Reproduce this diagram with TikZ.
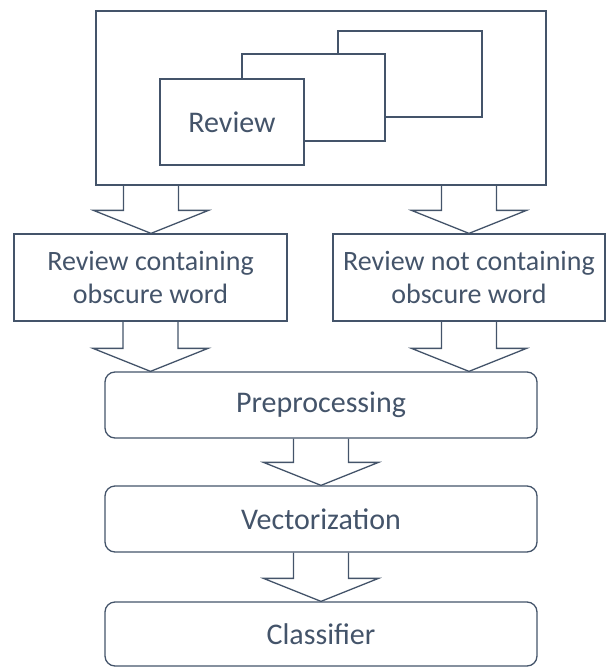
\documentclass[tikz,border=0pt]{standalone}
\usepackage{fontspec}
\setmainfont{Carlito}
\usetikzlibrary{calc}
\definecolor{ink}{HTML}{44546A}
\tikzset{
  base/.style={draw=ink, line width=1.3pt, text=ink, inner sep=0pt, align=center},
  sqbox/.style={base, rectangle},
  rbox/.style={base, rectangle, rounded corners=10pt, minimum width=432pt, minimum height=66pt, font=\fontsize{30}{36}\selectfont},
  twoline/.style={sqbox, minimum height=87pt, font=\fontsize{28}{33}\selectfont},
  blockline/.style={draw=ink, line width=1.3pt, line join=miter}
}
\newcommand\blockarrow[2]{%
  \draw[blockline] let \p1=#1, \p2=#2 in
    (\x2-27.5pt,\y1) -- (\x2-27.5pt,\y2+23pt) -- (\x2-57.5pt,\y2+23pt) -- (\x2,\y2)
    -- (\x2+57.5pt,\y2+23pt) -- (\x2+27.5pt,\y2+23pt) -- (\x2+27.5pt,\y1);}
\begin{document}
\begin{tikzpicture}[x=1pt,y=-1pt]
\useasboundingbox (0,0) rectangle (606,667);
% outer review container
\node[sqbox, minimum width=450pt, minimum height=174pt] (outer) at (321,98) {};
\node[sqbox, fill=white, minimum width=144pt, minimum height=86pt] (back) at (410,74) {};
\node[sqbox, fill=white, minimum width=143pt, minimum height=87pt] (mid) at (313.5,97.5) {};
\node[sqbox, fill=white, minimum width=144pt, minimum height=86pt, font=\fontsize{30}{36}\selectfont] (front) at (232,122) {Review};
% split boxes
\node[twoline, minimum width=273pt] (left) at (150.5,277.5) {Review containing\\obscure word};
\node[twoline, minimum width=272pt] (right) at (469,277.5) {Review not containing\\obscure word};
% pipeline
\node[rbox] (pre) at (321,405) {Preprocessing};
\node[rbox] (vec) at (321,519) {Vectorization};
\node[rbox, minimum height=64pt] (cls) at (321,634) {Classifier};
% block arrows
\blockarrow{(outer.south)}{($(left.north)+(0.5,0)$)}
\blockarrow{(outer.south)}{(right.north)}
\blockarrow{(left.south)}{($(pre.north west)!(left.south)!(pre.north east)$)}
\blockarrow{(right.south)}{($(pre.north west)!(right.south)!(pre.north east)$)}
\blockarrow{(pre.south)}{(vec.north)}
\blockarrow{(vec.south)}{(cls.north)}
\end{tikzpicture}
\end{document}
